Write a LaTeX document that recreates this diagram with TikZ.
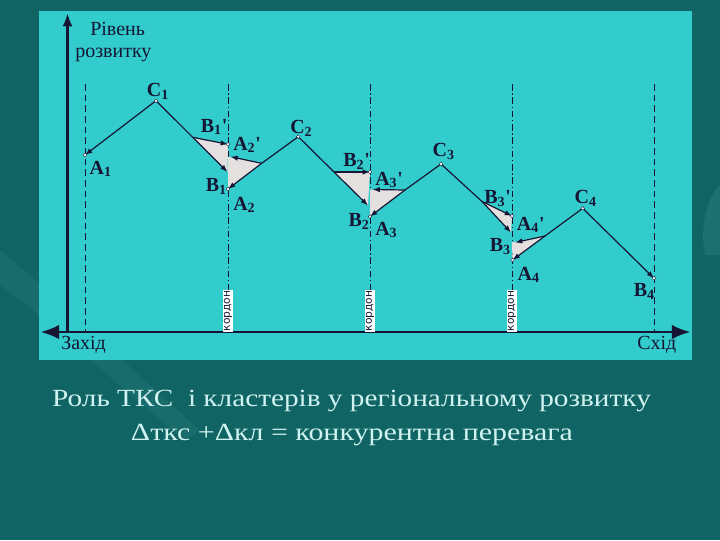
\documentclass[tikz,border=0pt]{standalone}
\usepackage{fontspec}
\usepackage{graphicx}
\setmainfont{Liberation Serif}
\newfontfamily\kordonfont{DejaVu Sans}
\usetikzlibrary{arrows.meta}
\definecolor{slidebg}{RGB}{16,100,100}
\definecolor{slidelight}{RGB}{60,140,140}
\definecolor{panelc}{RGB}{50,204,204}
\definecolor{ink}{RGB}{22,22,52}
\definecolor{tri}{RGB}{228,224,224}
\definecolor{titlec}{RGB}{208,242,240}
\begin{document}
\begin{tikzpicture}[x=0.75pt,y=-0.75pt,
  lab/.style={font=\fontsize{15}{17}\selectfont\bfseries, text=ink, inner sep=0pt, anchor=base west},
  ln/.style={draw=ink, line width=0.9pt},
  arr/.style={ln, -{Latex[length=5.5pt,width=4pt]}},
  dotm/.style={circle, fill=white, draw=ink, line width=0.3pt, inner sep=0pt, minimum size=2.8pt},
  guide/.style={draw=ink, line width=0.5pt, dash pattern=on 5pt off 3pt},
  border/.style={draw=ink, line width=0.75pt, dash pattern=on 5pt off 2pt on 1pt off 2pt},
  kordon/.style={fill=white, inner sep=0.7pt, rotate=90, font=\kordonfont\fontsize{8}{9}\selectfont, text=ink},
  axislab/.style={font=\fontsize{15}{17}\selectfont, text=ink, inner sep=0pt, anchor=base west},
  titletxt/.style={font=\fontsize{18.5}{21}\selectfont, text=titlec, inner sep=0pt, anchor=base},
  bigtip/.style={line width=2.2pt, draw=ink}
]
\useasboundingbox (0,0) rectangle (720,540);
% slide background
\fill[slidebg] (0,0) rectangle (720,540);
\fill[slidelight, opacity=0.22] (0,250) .. controls (60,300) and (120,360) .. (200,430)
   -- (185,440) .. controls (110,380) and (50,320) .. (0,285) -- cycle;
\fill[slidelight, opacity=0.3] (720,185) .. controls (705,200) and (700,230) .. (705,255) -- (720,255) -- cycle;
% panel
\fill[panelc] (39,11) rectangle (692,360);

% points
\coordinate (C1) at (156,100.7);
\coordinate (A1) at (85,155);
\coordinate (B1p) at (192.7,137.3);
\coordinate (A2p) at (228,144.3);
\coordinate (B1) at (227.5,172);
\coordinate (P1) at (261.7,163.3);
\coordinate (P1e) at (230.5,156.7);
\coordinate (P1v) at (228,156.7);
\coordinate (A2) at (228,189);
\coordinate (C2) at (298.3,136.7);
\coordinate (B2p) at (334,172);
\coordinate (A3p) at (370,172);
\coordinate (B2) at (368,205.5);
\coordinate (Q) at (405,190);
\coordinate (Qe) at (372.5,189.5);
\coordinate (Qv) at (370,189.5);
\coordinate (A3) at (370,216.5);
\coordinate (C3) at (441,164);
\coordinate (B3p) at (482,201.5);
\coordinate (A4p) at (512,216);
\coordinate (B3) at (511,232.5);
\coordinate (R) at (545,236);
\coordinate (Re) at (515,242.5);
\coordinate (Rv) at (512,242.5);
\coordinate (A4) at (512.5,260);
\coordinate (C4) at (582.7,208.3);
\coordinate (B4) at (654,278.3);

% guide lines
\coordinate (G1t) at (85,84);   \coordinate (G1b) at (85,332);
\coordinate (G2t) at (228,84);  \coordinate (G2b) at (228,332);
\coordinate (G3t) at (370,84);  \coordinate (G3b) at (370,332);
\coordinate (G4t) at (512,84);  \coordinate (G4b) at (512,332);
\coordinate (G5t) at (654,84);  \coordinate (G5b) at (654,332);
\draw[guide] (G1t) -- (G1b);
\draw[guide] (G5t) -- (G5b);
\draw[border] (G2t) -- (G2b);
\draw[border] (G3t) -- (G3b);
\draw[border] (G4t) -- (G4b);

% triangles
\fill[tri] (B1p) -- (A2p) -- (B1) -- cycle;
\fill[tri] (P1) -- (P1v) -- (A2) -- cycle;
\fill[tri] (B2p) -- (A3p) -- (B2) -- cycle;
\fill[tri] (Q) -- (Qv) -- (A3) -- cycle;
\fill[tri] (B3p) -- (A4p) -- (B3) -- cycle;
\fill[tri] (R) -- (Rv) -- (A4) -- cycle;

% axes
\coordinate (O) at (67.5,333);
\coordinate (Ytop) at (67.5,13);
\coordinate (Xl) at (40.5,332);
\coordinate (Xr) at (690.5,332);
\draw[bigtip, -{Latex[length=10pt,width=7.5pt]}] (O) -- (Ytop);
\draw[bigtip, {Latex[length=14pt,width=11pt]}-{Latex[length=14pt,width=11pt]}] (Xl) -- (Xr);

% connectors
\draw[arr] (C1) -- (A1);
\draw[arr] (C1) -- (B1p) -- (B1);
\draw[arr] (B1p) -- (A2p);
\draw[arr] (C2) -- (P1) -- (A2);
\draw[arr] (P1) -- (P1e);
\draw[arr] (C2) -- (B2p) -- (B2);
\draw[arr] (B2p) -- (A3p);
\draw[arr] (C3) -- (Q) -- (A3);
\draw[arr] (Q) -- (Qe);
\draw[arr] (C3) -- (B3p) -- (B3);
\draw[arr] (B3p) -- (A4p);
\draw[arr] (C4) -- (R) -- (A4);
\draw[arr] (R) -- (Re);
\draw[arr] (C4) -- (B4);

% markers
\foreach \p in {C1,A1,A2p,A2,C2,A3p,A3,C3,A4p,A4,C4,B4}
  \node[dotm] at (\p) {};

% point labels
\node[lab] (lC1) at (146.7,96.7) {C\textsubscript{1}};
\node[lab] (lA1) at (89.3,174) {A\textsubscript{1}};
\node[lab] (lB1p) at (200.5,132) {B\textsubscript{1}\textquotesingle};
\node[lab] (lA2p) at (233,150) {A\textsubscript{2}\textquotesingle};
\node[lab] (lB1) at (205.5,191.5) {B\textsubscript{1}};
\node[lab] (lA2) at (233,210) {A\textsubscript{2}};
\node[lab] (lC2) at (290,133.3) {C\textsubscript{2}};
\node[lab] (lB2p) at (343,166.7) {B\textsubscript{2}\textquotesingle};
\node[lab] (lA3p) at (375,185) {A\textsubscript{3}\textquotesingle};
\node[lab] (lB2) at (348.3,226.7) {B\textsubscript{2}};
\node[lab] (lA3) at (375,235) {A\textsubscript{3}};
\node[lab] (lC3) at (432.3,156.7) {C\textsubscript{3}};
\node[lab] (lB3p) at (484,203.3) {B\textsubscript{3}\textquotesingle};
\node[lab] (lA4p) at (516.7,230) {A\textsubscript{4}\textquotesingle};
\node[lab] (lB3) at (489.5,251.7) {B\textsubscript{3}};
\node[lab] (lA4) at (517.3,280) {A\textsubscript{4}};
\node[lab] (lC4) at (574.3,203.3) {C\textsubscript{4}};
\node[lab] (lB4) at (633.5,296.7) {B\textsubscript{4}};

% border labels
\node[kordon] (k1) at (228,311) {кордон};
\node[kordon] (k2) at (370,311) {кордон};
\node[kordon] (k3) at (512,311) {кордон};

% axis labels
\node[axislab] (ylab1) at (90,35) {Рівень};
\node[axislab] (ylab2) at (75,57) {розвитку};
\node[axislab] (west) at (61,349) {Захід};
\node[axislab] (east) at (637,349) {Схід};

% title
\node[titletxt] (t1) at (351.5,406) {\resizebox{449pt}{\height}{Роль ТКС\ \ і кластерів у регіональному розвитку}};
\node[titletxt] (t2) at (352,440) {\resizebox{331.5pt}{\height}{Δткс +Δкл = конкурентна перевага}};
\end{tikzpicture}
\end{document}
